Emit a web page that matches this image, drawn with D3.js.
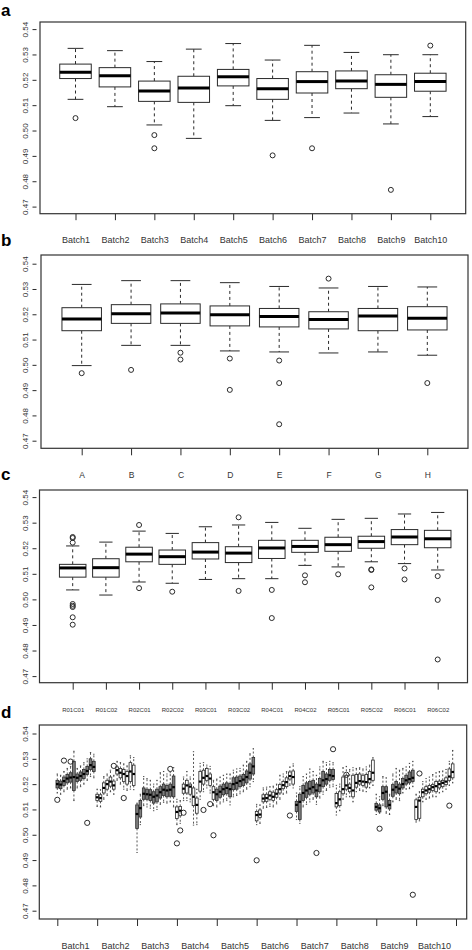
<!DOCTYPE html>
<html><head><meta charset="utf-8">
<script src="https://cdn.jsdelivr.net/npm/d3@7"></script>
<style>body{margin:0;background:#fff} svg{display:block}</style>
</head><body><svg id="c" width="472" height="950"></svg>
<script>
const FONT = '"Liberation Sans", Arial, Helvetica, sans-serif';
const yTickValues = [0.47,0.48,0.49,0.50,0.51,0.52,0.53,0.54];
const batchLabels = ["Batch1","Batch2","Batch3","Batch4","Batch5","Batch6","Batch7","Batch8","Batch9","Batch10"];

// Panel a: by batch
const aHi  = [0.5324,0.5315,0.5272,0.5321,0.5343,0.5278,0.5336,0.5308,0.5299,0.5299];
const aQ3  = [0.5262,0.5248,0.5195,0.5214,0.5241,0.5205,0.5232,0.5235,0.5220,0.5226];
const aMed = [0.5230,0.5216,0.5156,0.5168,0.5212,0.5165,0.5193,0.5195,0.5182,0.5193];
const aQ1  = [0.5205,0.5172,0.5115,0.5111,0.5176,0.5123,0.5148,0.5165,0.5131,0.5155];
const aLo  = [0.5123,0.5094,0.5022,0.4969,0.5098,0.5040,0.5051,0.5069,0.5026,0.5055];
const aOutBox = [1,3,3,6,7,9,10];
const aOutVal = [0.5049,0.4982,0.4930,0.4902,0.4930,0.4766,0.5335];

// Panel b: by chip
const bLabels = ["A","B","C","D","E","F","G","H"];
const bHi  = [0.5318,0.5333,0.5333,0.5325,0.5310,0.5304,0.5310,0.5308];
const bQ3  = [0.5226,0.5238,0.5241,0.5233,0.5223,0.5210,0.5223,0.5230];
const bMed = [0.5181,0.5202,0.5205,0.5198,0.5191,0.5179,0.5193,0.5184];
const bQ1  = [0.5135,0.5164,0.5164,0.5154,0.5150,0.5142,0.5135,0.5138];
const bLo  = [0.4997,0.5077,0.5077,0.5055,0.5051,0.5047,0.5051,0.5038];
const bOutBox = [1,2,3,3,4,4,5,5,5,6,8];
const bOutVal = [0.4967,0.4980,0.5048,0.5021,0.5025,0.4901,0.5017,0.4928,0.4765,0.5341,0.4928];

// Panel c: by position
const cLabels = ["R01C01","R01C02","R02C01","R02C02","R03C01","R03C02","R04C01","R04C02","R05C01","R05C02","R06C01","R06C02"];
const cHi  = [0.5209,0.5224,0.5267,0.5258,0.5284,0.5291,0.5301,0.5278,0.5313,0.5317,0.5334,0.5340];
const cQ3  = [0.5137,0.5159,0.5204,0.5193,0.5222,0.5206,0.5231,0.5231,0.5243,0.5247,0.5273,0.5270];
const cMed = [0.5123,0.5124,0.5177,0.5167,0.5185,0.5181,0.5201,0.5207,0.5214,0.5226,0.5244,0.5237];
const cQ1  = [0.5087,0.5087,0.5147,0.5137,0.5158,0.5144,0.5160,0.5184,0.5188,0.5200,0.5214,0.5202];
const cLo  = [0.5037,0.5017,0.5068,0.5063,0.5078,0.5081,0.5081,0.5133,0.5127,0.5147,0.5140,0.5115];
const cOutBox = [1,1,1,1,1,1,1,1,3,3,4,6,6,7,7,8,8,9,10,10,10,11,11,12,12,12];
const cOutVal = [0.5244,0.5240,0.5222,0.4982,0.4975,0.4970,0.4930,0.4901,0.5291,0.5044,0.5030,0.5321,0.5033,0.5037,0.4927,0.5094,0.5067,0.5098,0.5117,0.5115,0.5047,0.5121,0.5078,0.5091,0.4998,0.4765];

// Panel d: batch x position (12 per batch)
const dMed = [
0.5200,0.5198,0.5212,0.5222,0.5226,0.5228,0.5225,0.5232,0.5240,0.5252,0.5275,0.5268,
0.5148,0.5145,0.5185,0.5200,0.5210,0.5195,0.5255,0.5245,0.5240,0.5232,0.5250,0.5240,
0.5082,0.5105,0.5162,0.5160,0.5158,0.5150,0.5155,0.5168,0.5178,0.5175,0.5178,0.5188,
0.5090,0.5095,0.5182,0.5195,0.5190,0.5150,0.5118,0.5210,0.5225,0.5232,0.5222,0.5168,
0.5160,0.5170,0.5180,0.5185,0.5180,0.5200,0.5205,0.5212,0.5218,0.5228,0.5245,0.5270,
0.5078,0.5080,0.5143,0.5145,0.5155,0.5150,0.5162,0.5180,0.5196,0.5208,0.5232,0.5228,
0.5118,0.5130,0.5165,0.5175,0.5182,0.5188,0.5175,0.5195,0.5215,0.5220,0.5235,0.5232,
0.5125,0.5140,0.5180,0.5195,0.5185,0.5175,0.5205,0.5212,0.5210,0.5208,0.5220,0.5245,
0.5110,0.5105,0.5165,0.5170,0.5118,0.5178,0.5188,0.5182,0.5200,0.5215,0.5220,0.5225,
0.5110,0.5135,0.5168,0.5175,0.5180,0.5188,0.5192,0.5200,0.5205,0.5210,0.5230,0.5248];
const dQ3 = [
0.5215,0.5212,0.5228,0.5238,0.5245,0.5290,0.5240,0.5248,0.5258,0.5270,0.5300,0.5290,
0.5160,0.5158,0.5205,0.5215,0.5228,0.5212,0.5268,0.5262,0.5258,0.5250,0.5285,0.5275,
0.5118,0.5135,0.5185,0.5180,0.5178,0.5170,0.5180,0.5190,0.5200,0.5195,0.5200,0.5232,
0.5110,0.5112,0.5200,0.5215,0.5200,0.5185,0.5145,0.5250,0.5255,0.5262,0.5240,0.5190,
0.5180,0.5192,0.5200,0.5205,0.5202,0.5225,0.5228,0.5232,0.5238,0.5252,0.5280,0.5305,
0.5092,0.5098,0.5158,0.5160,0.5170,0.5168,0.5178,0.5198,0.5210,0.5225,0.5248,0.5252,
0.5132,0.5160,0.5195,0.5205,0.5210,0.5215,0.5200,0.5222,0.5250,0.5240,0.5258,0.5258,
0.5163,0.5170,0.5228,0.5235,0.5200,0.5235,0.5238,0.5240,0.5235,0.5238,0.5250,0.5295,
0.5124,0.5118,0.5190,0.5190,0.5135,0.5198,0.5210,0.5200,0.5222,0.5235,0.5248,0.5255,
0.5138,0.5148,0.5180,0.5190,0.5195,0.5198,0.5210,0.5212,0.5215,0.5225,0.5260,0.5280];
const dQ1 = [
0.5185,0.5182,0.5195,0.5205,0.5208,0.5175,0.5210,0.5215,0.5222,0.5238,0.5258,0.5250,
0.5135,0.5132,0.5165,0.5180,0.5192,0.5180,0.5240,0.5225,0.5210,0.5200,0.5210,0.5195,
0.5025,0.5070,0.5140,0.5140,0.5135,0.5125,0.5130,0.5145,0.5155,0.5150,0.5152,0.5150,
0.5064,0.5075,0.5164,0.5165,0.5160,0.5115,0.5085,0.5172,0.5200,0.5215,0.5195,0.5140,
0.5135,0.5148,0.5158,0.5162,0.5150,0.5178,0.5180,0.5190,0.5195,0.5205,0.5220,0.5240,
0.5055,0.5068,0.5130,0.5132,0.5140,0.5135,0.5148,0.5165,0.5182,0.5190,0.5220,0.5200,
0.5092,0.5060,0.5135,0.5148,0.5160,0.5165,0.5150,0.5170,0.5190,0.5200,0.5215,0.5218,
0.5110,0.5115,0.5162,0.5180,0.5170,0.5150,0.5188,0.5200,0.5195,0.5188,0.5205,0.5215,
0.5097,0.5090,0.5140,0.5110,0.5102,0.5152,0.5165,0.5162,0.5185,0.5200,0.5205,0.5210,
0.5060,0.5065,0.5150,0.5162,0.5168,0.5175,0.5170,0.5185,0.5190,0.5198,0.5215,0.5225];
const dHi = [
0.5240,0.5235,0.5250,0.5262,0.5270,0.5330,0.5262,0.5272,0.5285,0.5300,0.5325,0.5318,
0.5180,0.5178,0.5230,0.5240,0.5255,0.5235,0.5290,0.5285,0.5280,0.5272,0.5312,0.5305,
0.5125,0.5160,0.5230,0.5222,0.5215,0.5200,0.5215,0.5245,0.5250,0.5240,0.5245,0.5265,
0.5140,0.5135,0.5228,0.5250,0.5228,0.5328,0.5180,0.5282,0.5285,0.5275,0.5270,0.5215,
0.5220,0.5228,0.5235,0.5240,0.5240,0.5255,0.5260,0.5262,0.5275,0.5290,0.5320,0.5340,
0.5120,0.5118,0.5185,0.5188,0.5190,0.5192,0.5200,0.5235,0.5240,0.5250,0.5268,0.5280,
0.5165,0.5190,0.5230,0.5240,0.5260,0.5250,0.5235,0.5268,0.5290,0.5285,0.5290,0.5285,
0.5195,0.5200,0.5265,0.5270,0.5258,0.5265,0.5262,0.5265,0.5260,0.5268,0.5275,0.5305,
0.5160,0.5150,0.5230,0.5225,0.5160,0.5240,0.5262,0.5255,0.5262,0.5268,0.5282,0.5290,
0.5160,0.5170,0.5210,0.5222,0.5228,0.5238,0.5245,0.5250,0.5252,0.5258,0.5290,0.5333];
const dLo = [
0.5165,0.5160,0.5170,0.5180,0.5185,0.5135,0.5185,0.5190,0.5200,0.5215,0.5230,0.5225,
0.5112,0.5110,0.5140,0.5155,0.5170,0.5160,0.5215,0.5200,0.5180,0.5175,0.5180,0.5178,
0.4930,0.5040,0.5115,0.5110,0.5105,0.5095,0.5100,0.5120,0.5128,0.5125,0.5130,0.5110,
0.5040,0.5045,0.5135,0.5135,0.5130,0.5038,0.5040,0.5140,0.5170,0.5185,0.5165,0.5115,
0.5110,0.5122,0.5130,0.5135,0.5118,0.5150,0.5155,0.5162,0.5170,0.5180,0.5190,0.5210,
0.5040,0.5045,0.5105,0.5108,0.5112,0.5110,0.5122,0.5140,0.5160,0.5165,0.5195,0.5185,
0.5060,0.5045,0.5110,0.5120,0.5130,0.5140,0.5120,0.5145,0.5160,0.5175,0.5188,0.5190,
0.5078,0.5095,0.5140,0.5150,0.5150,0.5130,0.5170,0.5175,0.5172,0.5170,0.5185,0.5195,
0.5080,0.5085,0.5115,0.5085,0.5080,0.5130,0.5140,0.5135,0.5165,0.5180,0.5182,0.5190,
0.5050,0.5055,0.5130,0.5140,0.5145,0.5150,0.5150,0.5165,0.5170,0.5180,0.5195,0.5205];
const dOutBox = [1,3,5,10,18,21,35,37,38,39,45,47,48,61,71,79,84,88,98,108,110,119];
const dOutVal = [0.5138,0.5293,0.5289,0.5047,0.5272,0.5145,0.5260,0.4966,0.5017,0.5087,0.5098,0.5121,0.4998,0.4899,0.5076,0.4928,0.5338,0.5237,0.5024,0.4763,0.5242,0.5115];

const svg = d3.select("#c");
const INK = "#2a2a2a";

function drawPanel(o) {
  const g = svg.append("g");
  const x = d3.scaleLinear().domain(o.xDomain).range(o.xRange);
  const y = d3.scaleLinear().domain([0.47, 0.54]).range(o.yRange);
  const n = o.med.length;
  const bw = 0.8 * (x(2) - x(1));
  const half = bw / 2;

  // y axis
  const ya = g.append("g").attr("transform", `translate(${o.yAxisX},0)`)
    .call(d3.axisLeft(y).tickValues(yTickValues).tickSize(4).tickFormat(d3.format(".2f")));
  ya.select(".domain").remove();
  ya.selectAll("line").attr("stroke", INK);
  ya.selectAll("text").attr("transform", "rotate(-90)").attr("x", 0).attr("y", -11.5)
    .attr("dy", "0.35em").attr("text-anchor", "middle").attr("font-size", 8)
    .attr("font-family", FONT).attr("fill", "#333");

  // x axis
  const xa = g.append("g").attr("transform", `translate(0,${o.frame[3]})`)
    .call(d3.axisBottom(x).tickValues(o.tickVals).tickSize(o.tickLen)
      .tickFormat(o.tickFmt));
  xa.select(".domain").remove();
  xa.selectAll("line").attr("stroke", INK);
  xa.selectAll("text").attr("y", o.labelY - o.frame[3]).attr("dy", "0.35em")
    .attr("font-size", o.labelSize).attr("font-family", FONT).attr("fill", "#333");

  const dash = o.dash;
  const idx = d3.range(n);
  const bx = g.append("g");
  // whiskers
  bx.selectAll(".wu").data(idx).join("line")
    .attr("x1", i => x(i + 1)).attr("x2", i => x(i + 1))
    .attr("y1", i => y(o.q3[i])).attr("y2", i => y(o.hi[i]))
    .attr("stroke", INK).attr("stroke-width", o.lw).attr("stroke-dasharray", dash);
  bx.selectAll(".wl").data(idx).join("line")
    .attr("x1", i => x(i + 1)).attr("x2", i => x(i + 1))
    .attr("y1", i => y(o.q1[i])).attr("y2", i => y(o.lo[i]))
    .attr("stroke", INK).attr("stroke-width", o.lw).attr("stroke-dasharray", dash);
  // staples
  ["hi", "lo"].forEach(k => {
    bx.selectAll(".s" + k).data(idx).join("line")
      .attr("x1", i => x(i + 1) - half / 2).attr("x2", i => x(i + 1) + half / 2)
      .attr("y1", i => y(o[k][i])).attr("y2", i => y(o[k][i]))
      .attr("stroke", INK).attr("stroke-width", o.lw);
  });
  // boxes
  bx.selectAll(".bx").data(idx).join("rect")
    .attr("x", i => x(i + 1) - half).attr("width", bw)
    .attr("y", i => y(o.q3[i])).attr("height", i => y(o.q1[i]) - y(o.q3[i]))
    .attr("fill", i => o.fill(i)).attr("stroke", INK).attr("stroke-width", o.lw);
  // medians
  bx.selectAll(".md").data(idx).join("line")
    .attr("x1", i => x(i + 1) - half).attr("x2", i => x(i + 1) + half)
    .attr("y1", i => y(o.med[i])).attr("y2", i => y(o.med[i]))
    .attr("stroke", "#000").attr("stroke-width", o.mw);
  // outliers
  bx.selectAll(".ol").data(o.outBox.map((b, j) => [b, o.outVal[j]])).join("circle")
    .attr("cx", d => x(d[0])).attr("cy", d => y(d[1])).attr("r", o.r)
    .attr("fill", "none").attr("stroke", INK).attr("stroke-width", 1);

  // frame
  g.append("rect").attr("x", o.frame[0]).attr("y", o.frame[1])
    .attr("width", o.frame[2] - o.frame[0]).attr("height", o.frame[3] - o.frame[1])
    .attr("fill", "none").attr("stroke", "#333").attr("stroke-width", 1.2);

  // panel letter
  svg.append("text").attr("x", o.letterPos[0]).attr("y", o.letterPos[1])
    .attr("font-family", FONT).attr("font-weight", "bold").attr("font-size", 17)
    .attr("fill", "#000").text(o.letter);
  return {g, x, y};
}

drawPanel({
  letter: "a", letterPos: [1, 15.5],
  frame: [40, 22, 465.7, 213.7], xDomain: [1, 10], xRange: [75.5, 430.3], yRange: [206.6, 29.1],
  yAxisX: 36.5, tickVals: d3.range(1, 11), tickLen: 6.5, tickFmt: (d) => batchLabels[d - 1],
  labelY: 240, labelSize: 9,
  hi: aHi, q3: aQ3, med: aMed, q1: aQ1, lo: aLo, outBox: aOutBox, outVal: aOutVal,
  fill: () => "#fff", lw: 1, mw: 3, r: 2.5, dash: "3,3"
});

drawPanel({
  letter: "b", letterPos: [1, 246],
  frame: [41, 255, 468, 448.3], xDomain: [1, 8], xRange: [81.7, 427.3], yRange: [440.7, 263.7],
  yAxisX: 36.5, tickVals: d3.range(1, 9), tickLen: 7, tickFmt: (d) => bLabels[d - 1],
  labelY: 475, labelSize: 8.5,
  hi: bHi, q3: bQ3, med: bMed, q1: bQ1, lo: bLo, outBox: bOutBox, outVal: bOutVal,
  fill: () => "#fff", lw: 1, mw: 3, r: 2.5, dash: "3,3"
});

drawPanel({
  letter: "c", letterPos: [1, 479.5],
  frame: [39.5, 490, 467.5, 682.7], xDomain: [1, 12], xRange: [72.7, 437.7], yRange: [676.1, 497.1],
  yAxisX: 36.5, tickVals: d3.range(1, 13), tickLen: 7, tickFmt: (d) => cLabels[d - 1],
  labelY: 710, labelSize: 6,
  hi: cHi, q3: cQ3, med: cMed, q1: cQ1, lo: cLo, outBox: cOutBox, outVal: cOutVal,
  fill: () => "#fff", lw: 1, mw: 3, r: 2.5, dash: "3,3"
});

const pd = drawPanel({
  letter: "d", letterPos: [1, 717.5],
  frame: [39.3, 725, 466.7, 919], xDomain: [1, 121], xRange: [57.3, 456], yRange: [910.7, 733.5],
  yAxisX: 36.5, tickVals: d3.range(1, 122, 12), tickLen: 7, tickFmt: () => "",
  labelY: 946, labelSize: 9,
  hi: dHi, q3: dQ3, med: dMed, q1: dQ1, lo: dLo, outBox: dOutBox, outVal: dOutVal,
  fill: (i) => (Math.floor(i / 12) % 2 === 0 ? "#7d7d7d" : "#fff"), lw: 0.8, mw: 2.2, r: 2.6, dash: "2,2"
});
pd.g.append("g").selectAll("text").data(batchLabels).join("text")
  .attr("x", (d, k) => (pd.x(1 + 12 * k) + pd.x(12 + 12 * k)) / 2)
  .attr("y", 946).attr("dy", "0.35em").attr("text-anchor", "middle")
  .attr("font-size", 9).attr("font-family", FONT).attr("fill", "#333").text(d => d);
</script>
</body></html>
